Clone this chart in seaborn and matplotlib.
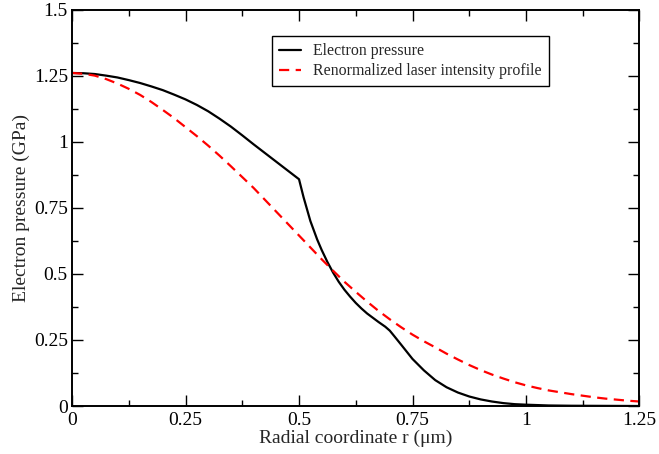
import matplotlib
matplotlib.use("Agg")
import matplotlib.pyplot as plt
import seaborn as sns
import pandas as pd
from matplotlib.ticker import MultipleLocator, FuncFormatter

# Electron pressure (black solid)
r_pressure = [0.0, 0.025, 0.05, 0.075, 0.1, 0.125, 0.15, 0.175, 0.2, 0.225, 0.25, 0.275,
              0.3, 0.325, 0.35, 0.375, 0.4, 0.425, 0.45, 0.475, 0.5,
              0.51, 0.525, 0.54, 0.55, 0.5625, 0.575, 0.5875, 0.6, 0.6125, 0.625,
              0.6375, 0.65, 0.6625, 0.675, 0.69, 0.7,
              0.71, 0.725, 0.75, 0.775, 0.8, 0.825, 0.85, 0.875, 0.9, 0.925, 0.95,
              0.975, 1.0, 1.05, 1.1, 1.25]
p_pressure = [1.26, 1.259, 1.256, 1.250, 1.243, 1.233, 1.222, 1.209, 1.195, 1.178, 1.16, 1.139,
              1.115, 1.087, 1.057, 1.024, 0.99, 0.957, 0.924, 0.891, 0.858,
              0.79, 0.70, 0.63, 0.59, 0.545, 0.505, 0.47, 0.44, 0.414, 0.39,
              0.369, 0.35, 0.334, 0.318, 0.30, 0.285,
              0.264, 0.232, 0.178, 0.135, 0.098, 0.071, 0.051, 0.036, 0.025, 0.017, 0.011,
              0.007, 0.005, 0.002, 0.001, 0.0]

# Renormalized laser intensity profile (red dashed)
r_laser = [0.0, 0.025, 0.05, 0.075, 0.1, 0.125, 0.15, 0.175, 0.2, 0.225, 0.25, 0.275,
           0.3, 0.325, 0.35, 0.375, 0.4, 0.425, 0.45, 0.475, 0.5, 0.525, 0.55, 0.575,
           0.6, 0.625, 0.65, 0.675, 0.7, 0.725, 0.75, 0.775, 0.8, 0.825, 0.85, 0.875,
           0.9, 0.925, 0.95, 0.975, 1.0, 1.025, 1.05, 1.075, 1.1, 1.125, 1.15, 1.175,
           1.2, 1.225, 1.25]
p_laser = [1.26, 1.257, 1.25, 1.237, 1.22, 1.2, 1.177, 1.15, 1.12, 1.089, 1.055, 1.021,
           0.985, 0.947, 0.907, 0.866, 0.825, 0.78, 0.735, 0.69, 0.645, 0.6, 0.555, 0.512,
           0.47, 0.432, 0.395, 0.36, 0.328, 0.298, 0.27, 0.245, 0.222, 0.198, 0.176, 0.155,
           0.136, 0.119, 0.104, 0.09, 0.078, 0.068, 0.059, 0.052, 0.045, 0.039, 0.033, 0.028,
           0.024, 0.02, 0.017]

x_ticks = [0, 0.25, 0.5, 0.75, 1, 1.25]
y_ticks = [0, 0.25, 0.5, 0.75, 1, 1.25, 1.5]

sns.set_theme(style="ticks")
plt.rcParams["font.family"] = ["Liberation Serif", "DejaVu Serif"]

fig = plt.figure(figsize=(6.59, 4.54), dpi=100)
ax = fig.add_axes([0.1093, 0.1057, 0.8611, 0.8733])

df_p = pd.DataFrame({"r": r_pressure, "p": p_pressure})
df_l = pd.DataFrame({"r": r_laser, "p": p_laser})

sns.lineplot(data=df_p, x="r", y="p", ax=ax, color="black", linewidth=1.6,
             label="Electron pressure", sort=False)
sns.lineplot(data=df_l, x="r", y="p", ax=ax, color="#ff0000", linewidth=1.6,
             label="Renormalized laser intensity profile", sort=False)
ax.lines[1].set_dashes([4.6, 2.9])

ax.set_xlim(0, 1.25)
ax.set_ylim(0, 1.5)

def fmt(v, pos):
    return f"{v:.2f}".rstrip("0").rstrip(".")

ax.set_xticks(x_ticks)
ax.set_yticks(y_ticks)
ax.xaxis.set_major_formatter(FuncFormatter(fmt))
ax.yaxis.set_major_formatter(FuncFormatter(fmt))
ax.xaxis.set_minor_locator(MultipleLocator(0.125))
ax.yaxis.set_minor_locator(MultipleLocator(0.125))
ax.tick_params(which="both", direction="in", top=True, right=True, colors="black")
ax.tick_params(which="major", length=8, width=1.0, labelsize=14, pad=4)
ax.tick_params(which="minor", length=4.3, width=1.0)
ax.tick_params(axis="y", which="major", pad=3)

for s in ax.spines.values():
    s.set_linewidth(1.4)
    s.set_color("black")

ax.set_xlabel("Radial coordinate r (μm)", fontsize=14, labelpad=1)
ax.set_ylabel("Electron pressure (GPa)", fontsize=14, labelpad=3)

leg = ax.legend(loc="upper left", bbox_to_anchor=(0.352, 0.933), fontsize=11.4,
                frameon=True, fancybox=False, framealpha=1, edgecolor="black",
                handlelength=1.4, handletextpad=0.75, borderpad=0.45, labelspacing=0.25,
                borderaxespad=0)
leg.get_frame().set_linewidth(1.0)
ax.set_facecolor("white")
fig.patch.set_facecolor("white")

fig.savefig("out.png", dpi=100)
